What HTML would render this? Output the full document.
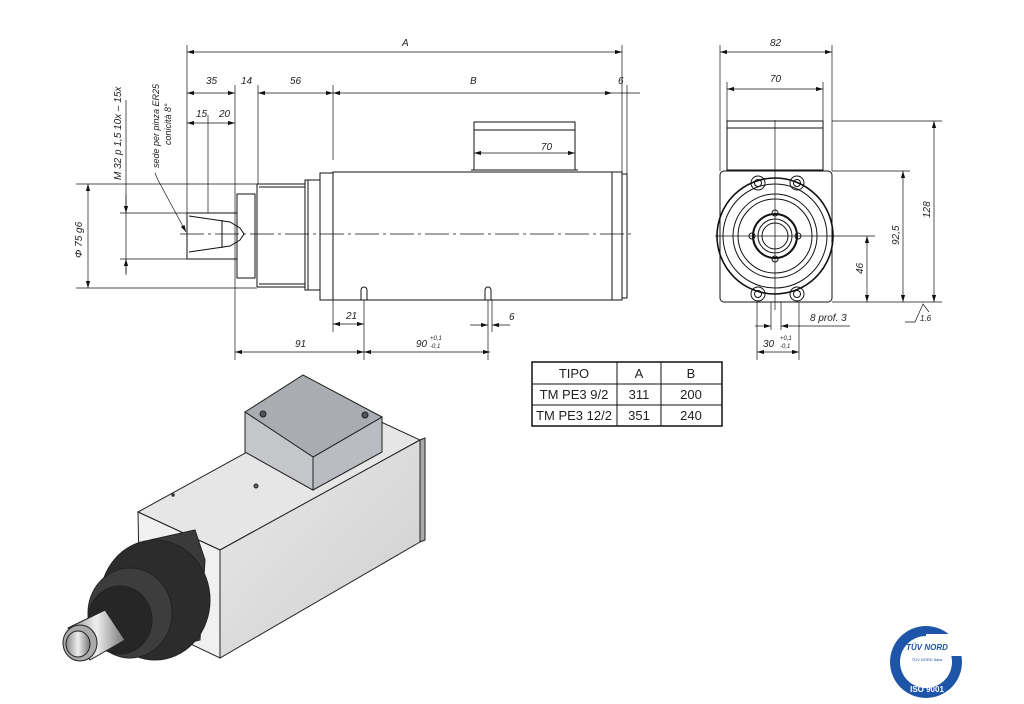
<!DOCTYPE html>
<html><head><meta charset="utf-8"><style>
html,body{margin:0;padding:0;background:#fff;}
svg{display:block;}
text{font-family:"Liberation Sans",sans-serif;fill:#222;}
.d{font-style:italic;font-size:10px;}
</style></head><body>
<svg width="1024" height="704" viewBox="0 0 1024 704" xmlns="http://www.w3.org/2000/svg">
<defs>
<marker id="a" viewBox="0 0 10 6" refX="10" refY="3" markerWidth="10" markerHeight="6" orient="auto-start-reverse"><path d="M0,0 L10,3 L0,6 z" fill="#111"/></marker>
<linearGradient id="g1" x1="0" y1="0" x2="1" y2="1"><stop offset="0" stop-color="#e8e8e8"/><stop offset="1" stop-color="#cfcfcf"/></linearGradient>
<linearGradient id="g2" x1="0" y1="0" x2="1" y2="0"><stop offset="0" stop-color="#888"/><stop offset=".5" stop-color="#eee"/><stop offset="1" stop-color="#777"/></linearGradient>
</defs>
<g stroke="#111" stroke-width="1" fill="none">
<!-- side view body -->
<rect x="333" y="172" width="289" height="128"/>
<rect x="622" y="174" width="5" height="124"/>
<line x1="612" y1="172" x2="612" y2="300"/>
<rect x="320" y="173" width="13" height="127"/>
<rect x="305" y="180" width="15" height="110"/>
<line x1="308" y1="180" x2="308" y2="290"/>
<path d="M257,184 H305 M257,287 H305 M257,184 V287"/>
<line x1="259" y1="187" x2="305" y2="187"/><line x1="259" y1="284" x2="305" y2="284"/>
<rect x="237" y="194" width="18" height="84"/>
<path d="M187,213 H237 V259 H187 Z"/>
<path d="M189,216 L230,222 L240,228 L244,234 L240,240 L230,246 L189,252"/>
<line x1="222" y1="220" x2="222" y2="248"/>
<!-- terminal box -->
<rect x="474" y="122" width="101" height="48"/>
<line x1="474" y1="130" x2="575" y2="130"/>
<line x1="471" y1="170" x2="578" y2="170"/>
<!-- holes -->
<path d="M361,300 V290 a3,3 0 0 1 6,0 V300"/><path d="M485,300 V290 a3,3 0 0 1 6,0 V300"/>
</g>
<!-- centerline -->
<line x1="180" y1="234" x2="632" y2="234" stroke="#111" stroke-width=".8" stroke-dasharray="24,4,3,4"/>
<g stroke="#111" stroke-width=".7" fill="none">
<!-- extension lines -->
<line x1="187" y1="45" x2="187" y2="213"/><line x1="622" y1="45" x2="622" y2="172"/>
<line x1="235" y1="85" x2="235" y2="360"/><line x1="258" y1="85" x2="258" y2="184"/>
<line x1="333" y1="85" x2="333" y2="160"/><line x1="627" y1="85" x2="627" y2="174"/>
<line x1="208" y1="115" x2="208" y2="213"/>
<line x1="76" y1="184" x2="257" y2="184"/><line x1="76" y1="288" x2="257" y2="288"/>
<line x1="120" y1="213" x2="187" y2="213"/><line x1="120" y1="259" x2="187" y2="259"/>
<line x1="333" y1="300" x2="333" y2="332"/><line x1="364" y1="300" x2="364" y2="360"/>
<line x1="488" y1="300" x2="488" y2="360"/><line x1="492" y1="300" x2="492" y2="332"/>
<!-- dims -->
<line x1="187" y1="52" x2="622" y2="52" marker-start="url(#a)" marker-end="url(#a)"/>
<line x1="187" y1="93" x2="235" y2="93" marker-start="url(#a)" marker-end="url(#a)"/>
<line x1="258" y1="93" x2="333" y2="93" marker-start="url(#a)" marker-end="url(#a)"/>
<line x1="333" y1="93" x2="612" y2="93" marker-start="url(#a)" marker-end="url(#a)"/>
<line x1="612" y1="93" x2="640" y2="93"/>
<line x1="187" y1="123" x2="235" y2="123" marker-start="url(#a)" marker-end="url(#a)"/>
<line x1="474" y1="153" x2="575" y2="153" marker-start="url(#a)" marker-end="url(#a)"/>
<line x1="88" y1="184" x2="88" y2="288" marker-start="url(#a)" marker-end="url(#a)"/>
<line x1="126" y1="100" x2="126" y2="273"/>
<line x1="126" y1="195" x2="126" y2="213" marker-end="url(#a)"/><line x1="126" y1="275" x2="126" y2="259" marker-end="url(#a)"/>
<line x1="333" y1="324" x2="364" y2="324" marker-start="url(#a)" marker-end="url(#a)"/>
<line x1="470" y1="325" x2="488" y2="325" marker-end="url(#a)"/><line x1="510" y1="325" x2="492" y2="325" marker-end="url(#a)"/>
<line x1="235" y1="352" x2="364" y2="352" marker-start="url(#a)" marker-end="url(#a)"/>
<line x1="364" y1="352" x2="490" y2="352" marker-start="url(#a)" marker-end="url(#a)"/>
<path d="M155,173 L158,180 L186,232" marker-end="url(#a)"/>
</g>
<g class="d">
<text x="402" y="46">A</text><text x="206" y="84">35</text><text x="241" y="84">14</text><text x="290" y="84">56</text>
<text x="470" y="84">B</text><text x="618" y="84">6</text><text x="196" y="117">15</text><text x="219" y="117">20</text>
<text x="541" y="150">70</text><text x="346" y="319">21</text><text x="509" y="320">6</text>
<text x="295" y="347">91</text><text x="416" y="347">90</text><text x="430" y="340" font-size="6">+0,1</text><text x="430" y="348" font-size="6">-0,1</text>
<text transform="translate(82,258) rotate(-90)">Φ 75 g6</text>
<text transform="translate(121,180) rotate(-90)">M 32  p 1,5 10x – 15x</text>
<text transform="translate(159,168) rotate(-90)" font-size="9">sede per pinza ER25</text>
<text transform="translate(171,145) rotate(-90)" font-size="9">conicità 8°</text>
</g>
<!-- end view -->
<g stroke="#111" stroke-width="1" fill="none">
<rect x="727" y="121" width="96" height="49"/><line x1="727" y1="128" x2="823" y2="128"/>
<rect x="720" y="171" width="112" height="131" rx="4"/>
<circle cx="775" cy="236" r="58" stroke-width="1.6"/>
<circle cx="775" cy="236" r="52"/><circle cx="775" cy="236" r="42"/><circle cx="775" cy="236" r="37"/>
<circle cx="775" cy="236" r="22" stroke-width="2"/><circle cx="775" cy="236" r="17"/><circle cx="775" cy="236" r="13"/>
<circle cx="775" cy="213" r="3"/><circle cx="775" cy="259" r="3"/><circle cx="752" cy="236" r="3"/><circle cx="798" cy="236" r="3"/>
<circle cx="758" cy="183" r="7"/><circle cx="758" cy="183" r="3.5"/><circle cx="797" cy="183" r="7"/><circle cx="797" cy="183" r="3.5"/>
<circle cx="758" cy="294" r="7"/><circle cx="758" cy="294" r="3.5"/><circle cx="797" cy="294" r="7"/><circle cx="797" cy="294" r="3.5"/>
</g>
<g stroke="#111" stroke-width=".7" fill="none">
<line x1="775" y1="120" x2="775" y2="310"/><line x1="715" y1="236" x2="845" y2="236"/>
<line x1="720" y1="45" x2="720" y2="171"/><line x1="832" y1="45" x2="832" y2="171"/>
<line x1="727" y1="82" x2="727" y2="121"/><line x1="823" y1="82" x2="823" y2="121"/>
<line x1="720" y1="52" x2="832" y2="52" marker-start="url(#a)" marker-end="url(#a)"/>
<line x1="727" y1="89" x2="823" y2="89" marker-start="url(#a)" marker-end="url(#a)"/>
<line x1="832" y1="121" x2="942" y2="121"/><line x1="832" y1="171" x2="910" y2="171"/>
<line x1="845" y1="236" x2="875" y2="236"/><line x1="832" y1="302" x2="942" y2="302"/>
<line x1="867" y1="236" x2="867" y2="302" marker-start="url(#a)" marker-end="url(#a)"/>
<line x1="903" y1="171" x2="903" y2="302" marker-start="url(#a)" marker-end="url(#a)"/>
<line x1="934" y1="121" x2="934" y2="302" marker-start="url(#a)" marker-end="url(#a)"/>
<path d="M905,322 L915,322 L923,304 L929,312"/>
<line x1="757" y1="302" x2="757" y2="360"/><line x1="799" y1="302" x2="799" y2="360"/>
<line x1="771" y1="302" x2="771" y2="330"/><line x1="781" y1="302" x2="781" y2="330"/>
<line x1="755" y1="326" x2="771" y2="326" marker-end="url(#a)"/><line x1="850" y1="326" x2="781" y2="326" marker-end="url(#a)"/>
<line x1="757" y1="352" x2="799" y2="352" marker-start="url(#a)" marker-end="url(#a)"/>
</g>
<g class="d">
<text x="770" y="46">82</text><text x="770" y="82">70</text><text x="810" y="321">8  prof. 3</text>
<text x="763" y="347">30</text><text x="780" y="340" font-size="6">+0,1</text><text x="780" y="348" font-size="6">-0,1</text>
<text transform="translate(863,274) rotate(-90)">46</text>
<text transform="translate(899,245) rotate(-90)">92,5</text>
<text transform="translate(930,218) rotate(-90)">128</text>
<text x="920" y="321" font-size="8">1.6</text>
</g>
<!-- table -->
<g stroke="#111" fill="none"><rect x="532" y="362" width="190" height="64" stroke-width="1.5"/>
<line x1="532" y1="384" x2="722" y2="384"/><line x1="532" y1="405" x2="722" y2="405"/>
<line x1="617" y1="362" x2="617" y2="426"/><line x1="661" y1="362" x2="661" y2="426"/></g>
<g font-size="13" text-anchor="middle"><text x="574" y="378">TIPO</text><text x="639" y="378">A</text><text x="691" y="378">B</text>
<text x="574" y="399">TM PE3 9/2</text><text x="639" y="399">311</text><text x="691" y="399">200</text>
<text x="574" y="420">TM PE3 12/2</text><text x="639" y="420">351</text><text x="691" y="420">240</text></g>
<!-- 3D -->
<g stroke="#222" stroke-width="1">
<polygon points="138,512 220,550 420,440 338,402" fill="#e6e6e6"/>
<polygon points="220,550 420,440 420,542 220,658" fill="url(#g1)"/>
<polygon points="138,512 220,550 220,658 140,620" fill="#f0f0f0"/>
<polygon points="420,440 425,438 425,540 420,542" fill="#aaa"/>
<polygon points="245,452 313,490 382,452 382,417 313,457 245,418" fill="#b9bcc0"/>
<polygon points="245,412 303,375 382,417 313,457" fill="#a9acb1"/>
<polygon points="245,412 313,457 313,490 245,452" fill="#c4c6ca"/>
<circle cx="263" cy="414" r="3" fill="#555"/><circle cx="365" cy="415" r="3" fill="#555"/>
<circle cx="256" cy="486" r="2" fill="#666"/><circle cx="173" cy="495" r="1.2" fill="#666"/>
<polygon points="150,540 195,530 205,560 200,640 160,650" fill="#3a3a3a"/>
<ellipse cx="155" cy="600" rx="55" ry="60" fill="#2c2c2c"/>
<ellipse cx="130" cy="613" rx="42" ry="45" fill="#3d3d3d"/>
<ellipse cx="120" cy="620" rx="32" ry="34" fill="#262626"/>
<polygon points="68,628 105,610 125,640 90,660" fill="url(#g2)"/>
<ellipse cx="80" cy="643" rx="17" ry="18" fill="#aaa"/>
<ellipse cx="78" cy="644" rx="12" ry="13" fill="url(#g2)"/>
</g>
<!-- logo -->
<circle cx="926" cy="662" r="36" fill="#1f55a8"/>
<circle cx="926" cy="662" r="26" fill="#fff"/>
<rect x="926" y="634" width="40" height="22" fill="#fff"/>
<text x="927" y="650" font-size="8" font-weight="bold" font-style="italic" fill="#1f55a8" text-anchor="middle" style="fill:#1f55a8">TÜV NORD</text>
<text x="927" y="661" font-size="4" text-anchor="middle" style="fill:#1f55a8">TÜV NORD Italia</text>
<text x="927" y="692" font-size="8" text-anchor="middle" style="fill:#fff" font-weight="bold">ISO 9001</text>
</svg>
</body></html>
